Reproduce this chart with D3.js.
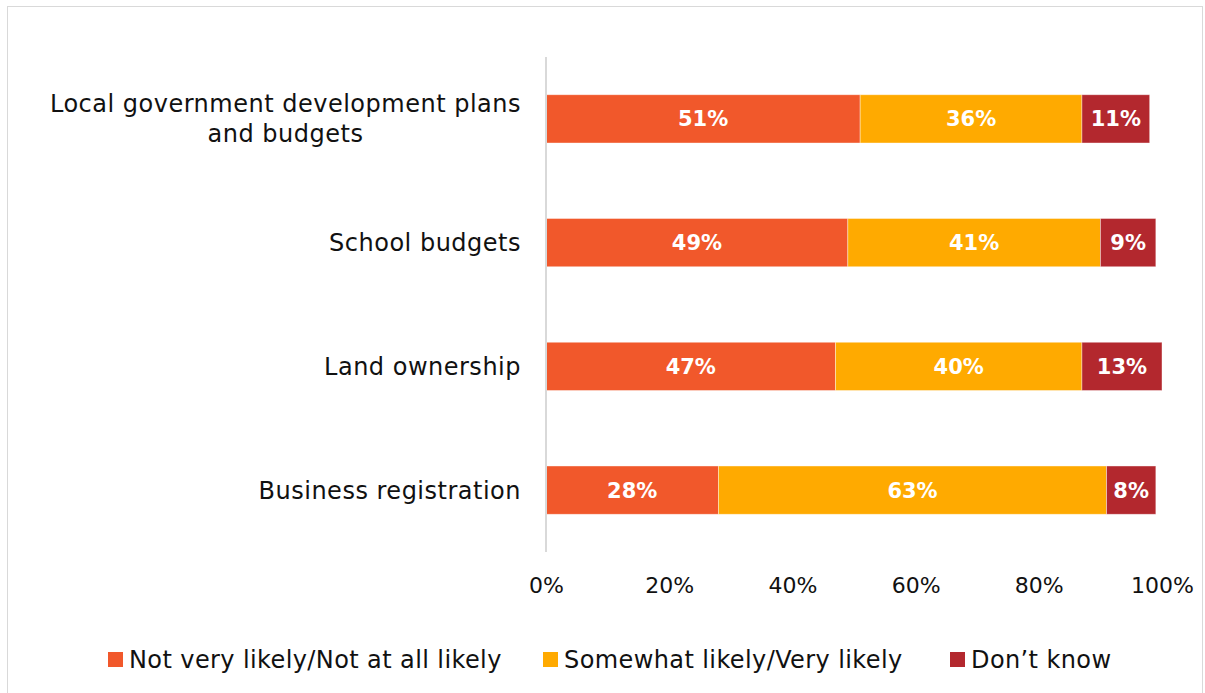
<!DOCTYPE html>
<html>
<head>
<meta charset="utf-8">
<script src="https://cdn.jsdelivr.net/npm/d3@7/dist/d3.min.js"></script>
<style>
  html, body { margin: 0; padding: 0; background: #fff; }
  svg { display: block; font-family: "DejaVu Sans", sans-serif; }
</style>
</head>
<body>
<svg id="chart" width="1205" height="693"></svg>
<script>
// Survey data: how likely respondents think they could obtain each kind of information
const categories = [
  ["Local government development plans", "and budgets"],
  ["School budgets"],
  ["Land ownership"],
  ["Business registration"]
];
const seriesNames = ["Not very likely/Not at all likely", "Somewhat likely/Very likely", "Don\u2019t know"];
const notLikely = [51, 49, 47, 28];
const likely = [36, 41, 40, 63];
const dontKnow = [11, 9, 13, 8];
const tickValues = [0, 20, 40, 60, 80, 100];
const colors = ["#F1582B", "#FFAA00", "#B3282E"];

const svg = d3.select("#chart");

// Outer frame
svg.append("rect")
  .attr("x", 7.5).attr("y", 6.5)
  .attr("width", 1195).attr("height", 700)
  .attr("fill", "none").attr("stroke", "#d9d9d9").attr("stroke-width", 1);

const x = d3.scaleLinear().domain([0, 100]).range([546, 1162]);
const y = d3.scaleBand()
  .domain(d3.range(categories.length))
  .range([57, 552])
  .paddingInner(0.61)
  .paddingOuter(0.305);

const series = [notLikely, likely, dontKnow];
const stackData = categories.map((c, i) => {
  const o = { idx: i };
  seriesNames.forEach((s, k) => { o[s] = series[k][i]; });
  return o;
});
const stacked = d3.stack().keys(seriesNames)(stackData);

// Bars
const layers = svg.append("g").selectAll("g")
  .data(stacked).join("g")
  .attr("fill", (d, k) => colors[k]);

layers.selectAll("rect")
  .data(d => d).join("rect")
  .attr("x", d => x(d[0]))
  .attr("width", d => x(d[1]) - x(d[0]))
  .attr("y", (d, i) => y(i))
  .attr("height", y.bandwidth())
  .attr("stroke", "#fff")
  .attr("stroke-opacity", 0.5)
  .attr("stroke-width", 0.8);

// Value labels inside the bars
layers.selectAll("text")
  .data((d, k) => d.map(v => ({ v, val: v[1] - v[0] })))
  .join("text")
  .attr("x", d => (x(d.v[0]) + x(d.v[1])) / 2)
  .attr("y", (d, i) => y(i) + y.bandwidth() / 2)
  .attr("dy", "0.36em")
  .attr("text-anchor", "middle")
  .attr("fill", "#fff")
  .attr("font-weight", "bold")
  .attr("font-size", 21)
  .text(d => d.val + "%");

// Vertical category axis line
svg.append("line")
  .attr("x1", x(0)).attr("x2", x(0))
  .attr("y1", 57).attr("y2", 552)
  .attr("stroke", "#d9d9d9").attr("stroke-width", 2);

// Category labels: the block is right-aligned to the axis, its lines centred within it
const catG = svg.append("g");
const labelRight = 521;
categories.forEach((lines, i) => {
  const cy = y(i) + y.bandwidth() / 2;
  const lh = 30;
  const t = catG.append("text")
    .attr("text-anchor", "middle")
    .attr("font-size", 24)
    .attr("letter-spacing", 0.5)
    .attr("fill", "#111");
  const spans = lines.map((ln, j) => t.append("tspan")
    .attr("y", cy - (lines.length - 1) * lh / 2 + j * lh)
    .attr("dy", "0.35em")
    .text(ln));
  const maxW = d3.max(spans, s => s.node().getComputedTextLength());
  spans.forEach(s => s.attr("x", labelRight - maxW / 2));
});

// Percentage axis
const xAxis = d3.axisBottom(x)
  .tickValues(tickValues)
  .tickFormat(d => d + "%")
  .tickSize(0)
  .tickPadding(0);
const ax = svg.append("g")
  .attr("transform", "translate(0,585)")
  .call(xAxis);
ax.select(".domain").remove();
ax.selectAll("text")
  .attr("font-size", 22)
  .attr("font-family", "DejaVu Sans, sans-serif")
  .attr("fill", "#111")
  .attr("dy", "0.35em");

// Legend
const legendX = [108, 543, 950];
const legend = svg.append("g");
seriesNames.forEach((s, k) => {
  legend.append("rect")
    .attr("x", legendX[k]).attr("y", 652)
    .attr("width", 15).attr("height", 15)
    .attr("fill", colors[k]);
  legend.append("text")
    .attr("x", legendX[k] + 21).attr("y", 660)
    .attr("dy", "0.35em")
    .attr("font-size", 24)
    .attr("letter-spacing", 0.4)
    .attr("fill", "#111")
    .text(s);
});
</script>
</body>
</html>
